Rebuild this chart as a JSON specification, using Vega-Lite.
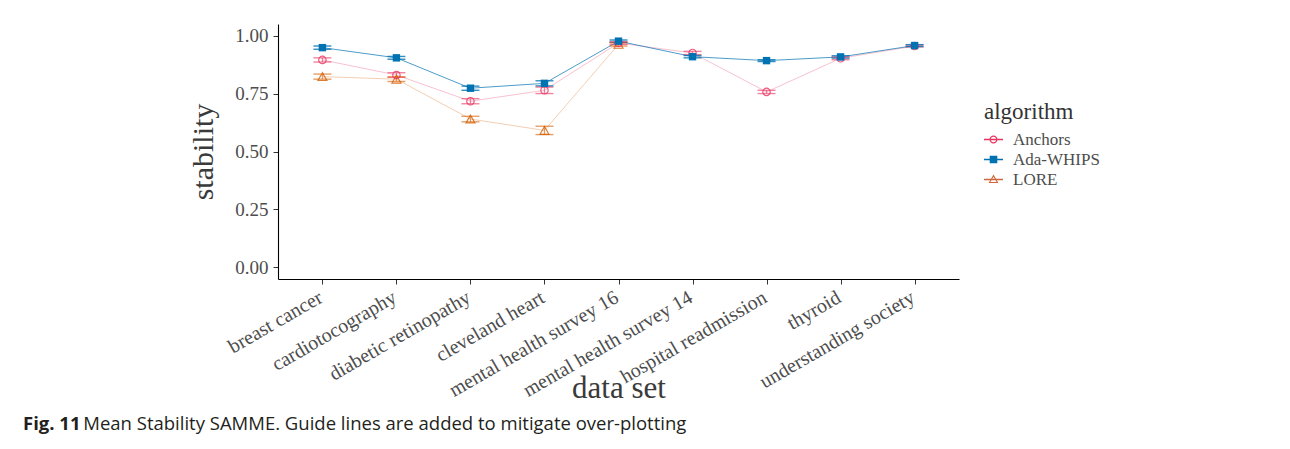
{
  "$schema": "https://vega.github.io/schema/vega-lite/v6.json",
  "width": 681,
  "height": 255,
  "autosize": {"type": "none"},
  "padding": {"left": 278, "top": 24, "right": 331, "bottom": 170},
  "background": "white",
  "title": {
    "text": "Fig. 11",
    "subtitle": "\u200b\u2003\u2003\u2003\u00a0Mean Stability SAMME. Guide lines are added to mitigate over-plotting",
    "orient": "bottom",
    "anchor": "start",
    "frame": "group",
    "dx": -255,
    "offset": 12,
    "font": "Open Sans",
    "fontSize": 18.5,
    "fontWeight": "bold",
    "color": "#231F20",
    "subtitleFont": "Open Sans",
    "subtitleFontSize": 18.5,
    "subtitleFontWeight": "normal",
    "subtitleColor": "#231F20",
    "subtitlePadding": -18.5
  },
  "data": {
    "values": [
      {"dataset": "breast cancer", "algorithm": "LORE", "stability": 0.823, "lo": 0.812, "hi": 0.834},
      {"dataset": "cardiotocography", "algorithm": "LORE", "stability": 0.812, "lo": 0.802, "hi": 0.822},
      {"dataset": "diabetic retinopathy", "algorithm": "LORE", "stability": 0.640, "lo": 0.628, "hi": 0.652},
      {"dataset": "cleveland heart", "algorithm": "LORE", "stability": 0.591, "lo": 0.573, "hi": 0.609},
      {"dataset": "mental health survey 16", "algorithm": "LORE", "stability": 0.962, "lo": 0.955, "hi": 0.969},
      {"dataset": "breast cancer", "algorithm": "Anchors", "stability": 0.895, "lo": 0.886, "hi": 0.904},
      {"dataset": "cardiotocography", "algorithm": "Anchors", "stability": 0.830, "lo": 0.820, "hi": 0.840},
      {"dataset": "diabetic retinopathy", "algorithm": "Anchors", "stability": 0.717, "lo": 0.706, "hi": 0.728},
      {"dataset": "cleveland heart", "algorithm": "Anchors", "stability": 0.764, "lo": 0.750, "hi": 0.778},
      {"dataset": "mental health survey 16", "algorithm": "Anchors", "stability": 0.968, "lo": 0.962, "hi": 0.974},
      {"dataset": "mental health survey 14", "algorithm": "Anchors", "stability": 0.925, "lo": 0.918, "hi": 0.932},
      {"dataset": "hospital readmission", "algorithm": "Anchors", "stability": 0.757, "lo": 0.750, "hi": 0.764},
      {"dataset": "thyroid", "algorithm": "Anchors", "stability": 0.902, "lo": 0.896, "hi": 0.908},
      {"dataset": "understanding society", "algorithm": "Anchors", "stability": 0.955, "lo": 0.951, "hi": 0.959},
      {"dataset": "breast cancer", "algorithm": "Ada-WHIPS", "stability": 0.948, "lo": 0.941, "hi": 0.955},
      {"dataset": "cardiotocography", "algorithm": "Ada-WHIPS", "stability": 0.904, "lo": 0.898, "hi": 0.910},
      {"dataset": "diabetic retinopathy", "algorithm": "Ada-WHIPS", "stability": 0.773, "lo": 0.764, "hi": 0.782},
      {"dataset": "cleveland heart", "algorithm": "Ada-WHIPS", "stability": 0.794, "lo": 0.783, "hi": 0.805},
      {"dataset": "mental health survey 16", "algorithm": "Ada-WHIPS", "stability": 0.976, "lo": 0.971, "hi": 0.981},
      {"dataset": "mental health survey 14", "algorithm": "Ada-WHIPS", "stability": 0.909, "lo": 0.904, "hi": 0.914},
      {"dataset": "hospital readmission", "algorithm": "Ada-WHIPS", "stability": 0.892, "lo": 0.888, "hi": 0.896},
      {"dataset": "thyroid", "algorithm": "Ada-WHIPS", "stability": 0.908, "lo": 0.903, "hi": 0.913},
      {"dataset": "understanding society", "algorithm": "Ada-WHIPS", "stability": 0.957, "lo": 0.953, "hi": 0.961}
    ]
  },
  "encoding": {
    "x": {
      "field": "dataset",
      "type": "nominal",
      "sort": ["breast cancer", "cardiotocography", "diabetic retinopathy", "cleveland heart", "mental health survey 16", "mental health survey 14", "hospital readmission", "thyroid", "understanding society"],
      "scale": {"type": "point", "padding": 0.6},
      "axis": {
        "title": "data set",
        "titleY": 118,
        "titleBaseline": "alphabetic",
        "titleFontSize": 31,
        "labelAngle": -30,
        "labelAlign": "right",
        "labelBaseline": "top",
        "labelPadding": 3,
        "labelOffset": -7,
        "labelLimit": 0,
        "labelFontSize": 20
      }
    },
    "y": {
      "field": "stability",
      "type": "quantitative",
      "scale": {"domain": [-0.05, 1.05], "nice": false, "zero": false},
      "axis": {
        "title": "stability",
        "values": [0, 0.25, 0.5, 0.75, 1],
        "format": ".2f",
        "titleX": -66,
        "titleBaseline": "alphabetic",
        "labelPadding": 5
      }
    },
    "color": {
      "field": "algorithm",
      "type": "nominal",
      "scale": {"domain": ["Ada-WHIPS", "Anchors", "LORE"], "range": ["#0072B2", "#E8335F", "#D55E00"]},
      "legend": null
    }
  },
  "layer": [
    {
      "mark": {"type": "line", "strokeWidth": 1},
      "encoding": {
        "opacity": {"condition": {"test": "datum.algorithm === 'Ada-WHIPS'", "value": 0.7}, "value": 0.3}
      }
    },
    {
      "mark": {"type": "rule", "strokeWidth": 1.3},
      "encoding": {
        "y": {"field": "lo", "type": "quantitative"},
        "y2": {"field": "hi"},
        "opacity": {"condition": {"test": "datum.algorithm === 'Ada-WHIPS'", "value": 0.8}, "value": 0.6}
      }
    },
    {
      "mark": {"type": "tick", "size": 18, "thickness": 1.4},
      "encoding": {
        "y": {"field": "lo", "type": "quantitative"},
        "opacity": {"condition": {"test": "datum.algorithm === 'Ada-WHIPS'", "value": 0.8}, "value": 0.6}
      }
    },
    {
      "mark": {"type": "tick", "size": 18, "thickness": 1.4},
      "encoding": {
        "y": {"field": "hi", "type": "quantitative"},
        "opacity": {"condition": {"test": "datum.algorithm === 'Ada-WHIPS'", "value": 0.8}, "value": 0.6}
      }
    },
    {
      "transform": [{"filter": "datum.algorithm === 'LORE'"}],
      "mark": {"type": "point", "shape": "triangle-up", "filled": false, "strokeWidth": 1.2, "size": 80, "opacity": 0.8},
      "encoding": {}
    },
    {
      "transform": [{"filter": "datum.algorithm === 'Anchors'"}],
      "mark": {"type": "point", "shape": "circle", "filled": false, "strokeWidth": 1.2, "size": 55, "opacity": 0.8},
      "encoding": {}
    },
    {
      "transform": [{"filter": "datum.algorithm === 'Ada-WHIPS'"}],
      "mark": {"type": "point", "shape": "square", "filled": true, "size": 55, "opacity": 1},
      "encoding": {}
    },
    {
      "mark": {"type": "point", "filled": true, "opacity": 0.001, "size": 1},
      "encoding": {
        "color": {"value": "transparent"},
        "shape": {
          "field": "algorithm",
          "type": "nominal",
          "title": "algorithm",
          "scale": {
            "domain": ["Anchors", "Ada-WHIPS", "LORE"],
            "range": [
              "M-1,-0.07H1V0.07H-1ZM-0.42,0A0.42,0.42,0,1,1,0.42,0A0.42,0.42,0,1,1,-0.42,0ZM-0.3,0A0.3,0.3,0,1,0,0.3,0A0.3,0.3,0,1,0,-0.3,0Z",
              "M-1,-0.07H1V0.07H-1ZM-0.4,-0.4H0.4V0.4H-0.4Z",
              "M-1,-0.07H1V0.07H-1ZM0,-0.52L0.52,0.38H-0.52ZM0,-0.3L-0.33,0.27H0.33Z"
            ]
          }
        },
        "fill": {
          "field": "algorithm",
          "type": "nominal",
          "title": "algorithm",
          "scale": {"domain": ["Anchors", "Ada-WHIPS", "LORE"], "range": ["#E8335F", "#0072B2", "#D0673A"]}
        }
      }
    }
  ],
  "config": {
    "view": {"stroke": null},
    "font": "Liberation Serif",
    "legend": {
      "orient": "none",
      "legendX": 706,
      "legendY": 77,
      "padding": 0,
      "titleFont": "Liberation Serif",
      "titleFontSize": 23,
      "titleFontWeight": "normal",
      "titleColor": "#333333",
      "titlePadding": 6,
      "labelFont": "Liberation Serif",
      "labelFontSize": 17,
      "labelColor": "#4D4D4D",
      "labelOffset": 10,
      "rowPadding": 2,
      "symbolSize": 361,
      "symbolOpacity": 1,
      "symbolStrokeWidth": 0
    },
    "axis": {
      "grid": false,
      "domainColor": "#000000",
      "domainWidth": 1.1,
      "tickColor": "#333333",
      "tickSize": 5,
      "tickWidth": 1,
      "labelFont": "Liberation Serif",
      "labelFontSize": 19,
      "labelColor": "#4D4D4D",
      "titleFont": "Liberation Serif",
      "titleFontSize": 30,
      "titleFontWeight": "normal",
      "titleColor": "#3A3A3A"
    }
  }
}
